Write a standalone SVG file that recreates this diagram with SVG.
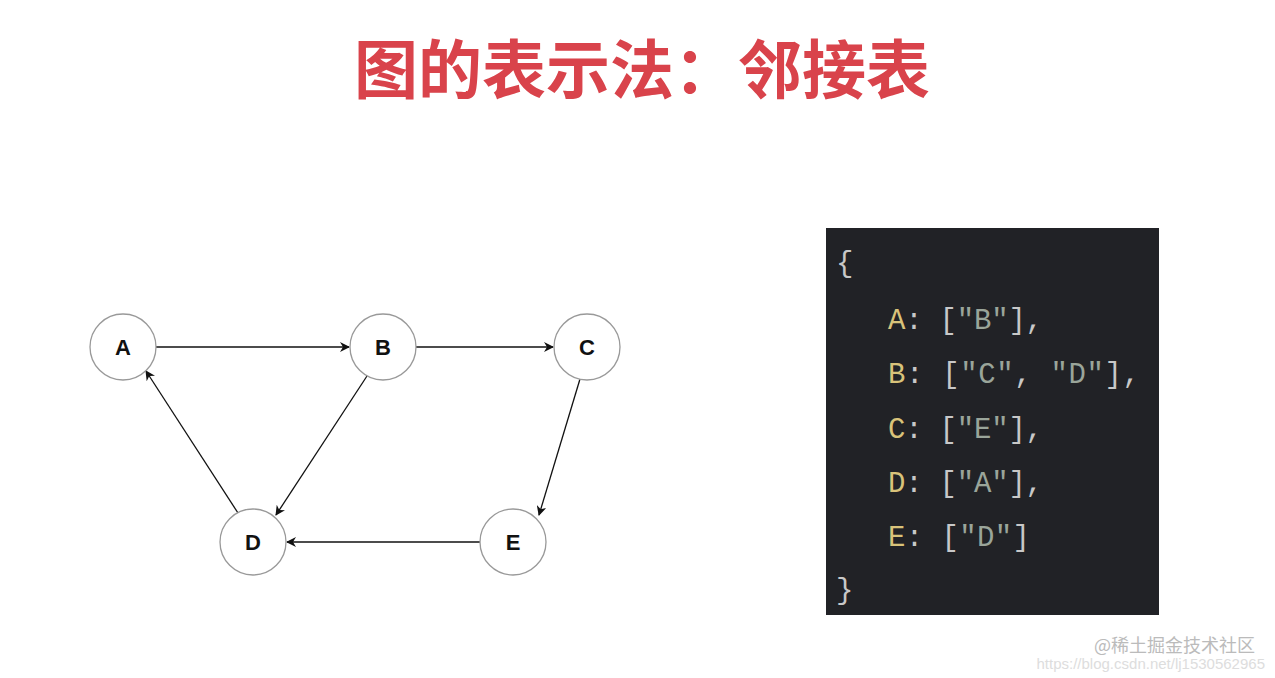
<svg xmlns="http://www.w3.org/2000/svg" width="1275" height="678" viewBox="0 0 1275 678">
<style>
.n circle{fill:#fff;stroke:#999;stroke-width:1.3}
.n text{font-family:"Liberation Sans",Arial,sans-serif;font-weight:bold;font-size:22px;text-anchor:middle;fill:#111}
.e line{stroke:#111;stroke-width:1.3;marker-end:url(#ah)}
.c{font-family:"Liberation Mono","DejaVu Sans Mono",monospace;font-size:29px;fill:#c8c8c8}
.k{fill:#d9c37a}
.s{fill:#9aa59a}
</style>
<defs><marker id="ah" markerWidth="10" markerHeight="10" refX="9" refY="5" orient="auto" markerUnits="userSpaceOnUse"><path d="M0,0 L10,5 L0,10 L3,5 Z" fill="#111"/></marker></defs>
<rect width="1275" height="678" fill="#fff"/>
<text x="642" y="93" text-anchor="middle" font-family="'Noto Sans CJK SC',sans-serif" font-weight="bold" font-size="64" fill="#d9434b">图的表示法：邻接表</text>
<g id="edges" class="e">
<line x1="156" y1="347" x2="349" y2="347"/>
<line x1="416" y1="347" x2="553" y2="347"/>
<line x1="580" y1="379" x2="539" y2="515"/>
<line x1="367" y1="376" x2="276" y2="515"/>
<line x1="480" y1="542" x2="287" y2="542"/>
<line x1="238" y1="513" x2="146" y2="371"/>
</g>
<g id="A" class="n"><circle cx="123" cy="347" r="33"/><text x="123" y="355">A</text></g>
<g id="B" class="n"><circle cx="383" cy="347" r="33"/><text x="383" y="355">B</text></g>
<g id="C" class="n"><circle cx="587" cy="347" r="33"/><text x="587" y="355">C</text></g>
<g id="D" class="n"><circle cx="253" cy="542" r="33"/><text x="253" y="550">D</text></g>
<g id="E" class="n"><circle cx="513" cy="542" r="33"/><text x="513" y="550">E</text></g>
<g id="code">
<rect x="826" y="228" width="333" height="387" fill="#212226"/>
<text class="c" x="836" y="272">{</text>
<text class="c" x="888" y="329" textLength="155"><tspan class="k">A</tspan>: [<tspan class="s">″B″</tspan>],</text>
<text class="c" x="888" y="383" textLength="252"><tspan class="k">B</tspan>: [<tspan class="s">″C″</tspan>, <tspan class="s">″D″</tspan>],</text>
<text class="c" x="888" y="438" textLength="155"><tspan class="k">C</tspan>: [<tspan class="s">″E″</tspan>],</text>
<text class="c" x="888" y="492" textLength="155"><tspan class="k">D</tspan>: [<tspan class="s">″A″</tspan>],</text>
<text class="c" x="888" y="546" textLength="142"><tspan class="k">E</tspan>: [<tspan class="s">″D″</tspan>]</text>
<text class="c" x="836" y="599">}</text>
</g>
<text x="1255" y="652" text-anchor="end" font-family="'Noto Sans CJK SC',sans-serif" font-size="18" fill="#bbb">@稀土掘金技术社区</text>
<text x="1265" y="669" text-anchor="end" font-family="'Liberation Sans',sans-serif" font-size="15" fill="#ddd">https://blog.csdn.net/lj1530562965</text>
</svg>
